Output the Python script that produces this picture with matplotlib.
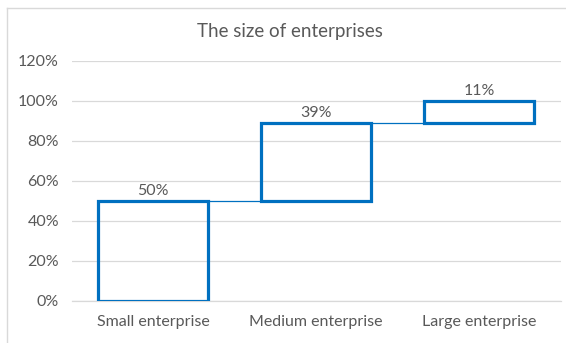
import numpy as np
import matplotlib
matplotlib.use("Agg")
import matplotlib.pyplot as plt
from matplotlib.lines import Line2D

categories = ["Small enterprise", "Medium enterprise", "Large enterprise"]
shares = [0.50, 0.39, 0.11]
labels = ["50%", "39%", "11%"]
yticks = [0.0, 0.2, 0.4, 0.6, 0.8, 1.0, 1.2]

BLUE = "#0070C0"
GREY = "#595959"
GRID = "#D9D9D9"

plt.rcParams["font.family"] = ["Lato", "DejaVu Sans"]

fig = plt.figure(figsize=(5.66, 3.43), dpi=100)
ax = fig.add_axes([71.5 / 566, 1 - 300.7 / 343, 489 / 566, 240 / 343])

x = np.arange(len(categories))
vals = np.array(shares)
bottoms = np.concatenate([[0], np.cumsum(vals)[:-1]])
width = 0.67

ax.bar(x, vals, width, bottom=bottoms, facecolor="none",
       edgecolor=BLUE, linewidth=2.3, zorder=3)

# connectors between consecutive steps
tops = bottoms + vals
for i in range(len(x) - 1):
    ax.plot([x[i] + width / 2, x[i + 1] - width / 2], [tops[i], tops[i]],
            color=BLUE, lw=0.9, zorder=2)

for xi, top, lab in zip(x, tops, labels):
    ax.annotate(lab, (xi, top), xytext=(0, 2), textcoords="offset points",
                ha="center", va="bottom", fontsize=11.5, color=GREY)

ax.set_xlim(-0.5, len(x) - 0.5)
ax.set_ylim(0, 1.2)
ax.set_yticks(yticks)
ax.set_yticklabels([f"{int(round(t * 100))}%" for t in yticks])
ax.set_xticks(x)
ax.set_xticklabels(categories)
ax.tick_params(length=0, labelsize=11.5, colors=GREY)
ax.tick_params(axis="y", pad=9)
ax.tick_params(axis="x", pad=10)
ax.grid(axis="y", color=GRID, lw=0.9, zorder=0)
ax.set_axisbelow(True)
for side in ["top", "right", "left"]:
    ax.spines[side].set_visible(False)
ax.spines["bottom"].set_color(GRID)
ax.spines["bottom"].set_linewidth(0.9)

fig.text(290 / 566, 1 - 32 / 343, "The size of enterprises",
         ha="center", va="center", fontsize=13.5, color=GREY)

# chart area border
fig.add_artist(Line2D([7 / 566, 7 / 566], [0, 1 - 8 / 343], color=GRID, lw=1))
fig.add_artist(Line2D([7 / 566, 1], [1 - 8 / 343, 1 - 8 / 343], color=GRID, lw=1))

fig.savefig("out.png", dpi=100)
